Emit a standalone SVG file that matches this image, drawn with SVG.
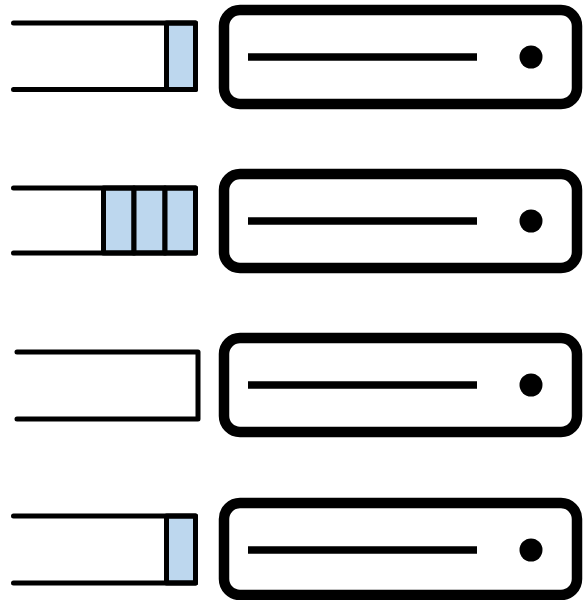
<svg xmlns="http://www.w3.org/2000/svg" width="583" height="600" viewBox="0 0 583 600">
<style>
.q{fill:none;stroke:#000;stroke-width:5;stroke-linecap:round;stroke-linejoin:round}
.cell{fill:#bdd7ee;stroke:#000;stroke-width:5;stroke-linejoin:round}
.srv{fill:#fff;stroke:#000;stroke-width:10.5}
.bar{stroke:#000;stroke-width:7.5}
</style>
<rect width="583" height="600" fill="#fff"/>
<g id="queue1">
<rect class="cell" x="166.5" y="23" width="29" height="66.5"/>
<path class="q" d="M13.5,23 H195.5 V89.5 H13.5"/>
</g>
<g id="server1">
<rect class="srv" x="224" y="10" width="353" height="94" rx="16"/>
<line class="bar" x1="248" y1="57" x2="477" y2="57"/>
<circle cx="531" cy="57" r="11.5"/>
</g>
<g id="queue2">
<rect class="cell" x="103.5" y="188" width="30.5" height="65"/>
<rect class="cell" x="134" y="188" width="31" height="65"/>
<rect class="cell" x="165" y="188" width="30.5" height="65"/>
<path class="q" d="M13.5,188 H195.5 V253 H13.5"/>
</g>
<g id="server2">
<rect class="srv" x="224" y="174" width="353" height="94" rx="16"/>
<line class="bar" x1="248" y1="221" x2="477" y2="221"/>
<circle cx="531" cy="221" r="11.5"/>
</g>
<g id="queue3">
<path class="q" d="M17,352 H198 V419 H17"/>
</g>
<g id="server3">
<rect class="srv" x="224" y="338" width="353" height="94" rx="16"/>
<line class="bar" x1="248" y1="385" x2="477" y2="385"/>
<circle cx="531" cy="385" r="11.5"/>
</g>
<g id="queue4">
<rect class="cell" x="166.5" y="516" width="29" height="67"/>
<path class="q" d="M13.5,516 H195.5 V583 H13.5"/>
</g>
<g id="server4">
<rect class="srv" x="224" y="503" width="353" height="92" rx="16"/>
<line class="bar" x1="248" y1="550" x2="477" y2="550"/>
<circle cx="531" cy="550" r="11.5"/>
</g>
<g id="connectors"></g>
</svg>
